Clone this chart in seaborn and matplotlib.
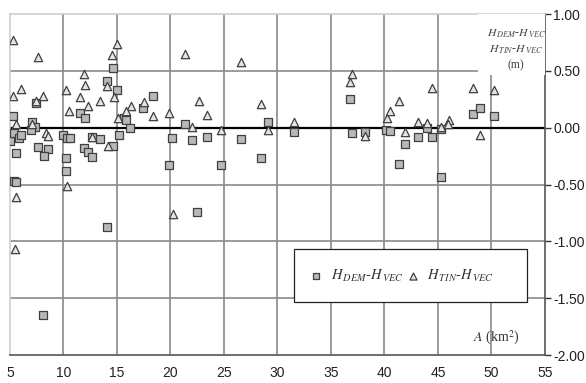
import matplotlib
matplotlib.use('Agg')
import matplotlib.pyplot as plt
from matplotlib.patches import Rectangle
import seaborn as sns
import pandas as pd

# catchment area A (km2) and height differences (m)
dem_area = [5.3, 5.0, 5.4, 5.8, 6.0, 5.6, 5.4, 5.6, 7.4, 7.1, 7.3, 7.0, 7.6, 8.6, 8.2, 8.1,
            10.0, 10.3, 10.6, 10.2, 10.2, 11.5, 12.0, 11.9, 12.3, 12.7, 12.7, 13.4, 14.1, 14.6,
            15.0, 14.6, 14.1, 15.2, 15.7, 15.8, 16.2, 17.4, 18.4, 20.1, 19.9, 21.4, 22.0, 22.5,
            23.4, 24.7, 26.6, 28.5, 29.1, 31.5, 36.8, 37.0, 38.2, 40.1, 40.5, 41.9, 41.4, 43.1,
            44.0, 44.4, 45.3, 45.3, 48.3, 48.9, 50.2]
dem_diff = [0.10, -0.12, -0.05, -0.09, -0.06, -0.22, -0.47, -0.48, 0.22, 0.05, 0.01, -0.02, -0.17,
            -0.19, -0.25, -1.65, -0.06, -0.09, -0.09, -0.27, -0.38, 0.13, 0.09, -0.18, -0.21, -0.26,
            -0.08, -0.10, 0.41, 0.53, 0.33, -0.16, -0.87, -0.06, 0.09, 0.07, 0.00, 0.17, 0.28, -0.09,
            -0.33, 0.03, -0.11, -0.74, -0.08, -0.33, -0.10, -0.27, 0.05, -0.04, 0.25, -0.05, -0.04,
            -0.02, -0.03, -0.14, -0.32, -0.08, 0.00, -0.08, -0.01, -0.43, 0.12, 0.17, 0.10]

tin_area = [5.3, 7.6, 15.0, 14.5, 21.4, 26.6, 37.0, 36.8, 11.9, 12.0, 14.1, 6.0, 5.3, 8.1, 7.4,
            10.2, 11.5, 13.4, 14.7, 12.3, 10.5, 16.3, 15.8, 17.5, 18.4, 19.9, 22.7, 28.5, 23.4,
            15.1, 5.6, 7.1, 8.4, 8.6, 12.7, 14.2, 22.0, 24.7, 29.1, 31.5, 38.2, 10.3, 5.6, 20.2,
            5.5, 40.2, 40.5, 41.4, 41.9, 43.1, 44.0, 44.4, 45.3, 46.0, 45.9, 48.3, 48.9, 50.2]
tin_diff = [0.77, 0.62, 0.74, 0.64, 0.65, 0.58, 0.47, 0.40, 0.47, 0.38, 0.37, 0.34, 0.28, 0.28, 0.24,
            0.33, 0.27, 0.24, 0.27, 0.19, 0.15, 0.19, 0.15, 0.23, 0.10, 0.13, 0.24, 0.21, 0.11,
            0.09, 0.03, 0.03, -0.05, -0.07, -0.08, -0.16, 0.01, -0.02, -0.02, 0.05, -0.07, -0.51,
            -0.61, -0.76, -1.07, 0.09, 0.15, 0.24, -0.04, 0.05, 0.04, 0.35, 0.01, 0.07, 0.03, 0.35,
            -0.06, 0.33]

x_ticks = [5, 10, 15, 20, 25, 30, 35, 40, 45, 50, 55]
y_ticks = [-2.0, -1.5, -1.0, -0.5, 0.0, 0.5, 1.0]

label_dem = r'$H_{\,DEM}$-$H_{\,VEC}$'
label_tin = r'$H_{\,TIN}$-$H_{\,VEC}$'

sns.set_style('white')
plt.rcParams['font.family'] = ['Liberation Sans', 'DejaVu Sans']
plt.rcParams['mathtext.fontset'] = 'stix'

fig = plt.figure(figsize=(5.86, 3.83), dpi=100)
ax = fig.add_axes([0.017, 0.073, 0.913, 0.89])

dem = pd.DataFrame({'A': dem_area, 'dH': dem_diff})
tin = pd.DataFrame({'A': tin_area, 'dH': tin_diff})

sns.scatterplot(data=dem, x='A', y='dH', marker='s', s=32, color='#b8b8b8',
                edgecolor='#404040', linewidth=0.9, label=label_dem, ax=ax, zorder=4)
sns.scatterplot(data=tin, x='A', y='dH', marker='^', s=36, color='#e4e4e4',
                edgecolor='#404040', linewidth=0.9, label=label_tin, ax=ax, zorder=5)

ax.set_xlim(5, 55)
ax.set_ylim(-2, 1)
ax.set_xticks(x_ticks)
ax.set_yticks(y_ticks)
ax.set_yticklabels([f'{v:.2f}' for v in y_ticks])
ax.yaxis.tick_right()
ax.tick_params(axis='both', labelsize=10, direction='out', length=4, width=1,
               colors='#333333', labelcolor='#222222')
ax.tick_params(axis='x', pad=4)
ax.tick_params(axis='y', pad=2)
ax.set_xlabel('')
ax.set_ylabel('')

for xv in x_ticks[1:-1]:
    ax.axvline(xv, color='#8a8a8a', lw=1.2, zorder=1)
for yv in y_ticks[1:-1]:
    ax.axhline(yv, color='#8a8a8a', lw=1.2, zorder=1)
ax.axhline(0, color='black', lw=1.6, zorder=2)

ax.spines['top'].set_color('#cfcfcf')
ax.spines['left'].set_color('#cfcfcf')
ax.spines['right'].set_color('#555555')
ax.spines['bottom'].set_color('#555555')
for sp in ax.spines.values():
    sp.set_linewidth(1.2)

# white block behind the unit label in the top right corner
ax.add_patch(Rectangle((0.875, 0.821), 0.125, 0.179, transform=ax.transAxes,
                       facecolor='white', edgecolor='none', zorder=3))
ax.text(52.3, 0.88, label_dem + '\n' + label_tin + '\n(m)', ha='center', va='top',
        fontsize=8.5, color='#444444', linespacing=1.35, multialignment='center',
        family='Liberation Serif', zorder=6)
ax.text(52.6, -1.85, r'$A$ (km$^2$)', ha='right', va='center', fontsize=10,
        color='#333333', family='Liberation Serif', zorder=6)

# legend frame drawn separately so the entries stay left aligned inside a wide box
ax.add_patch(Rectangle((0.531, 0.155), 0.435, 0.156, transform=ax.transAxes,
                       facecolor='white', edgecolor='#222222', lw=0.9, zorder=7))
leg = ax.legend(loc='center left', bbox_to_anchor=(0.537, 0.232), ncol=2, fontsize=10.5,
                frameon=False, handlelength=0.8, handletextpad=0.6, columnspacing=0.2,
                markerscale=0.85)
leg.set_zorder(8)
for t in leg.get_texts():
    t.set_color('#333333')

fig.savefig('out.png', dpi=100)
